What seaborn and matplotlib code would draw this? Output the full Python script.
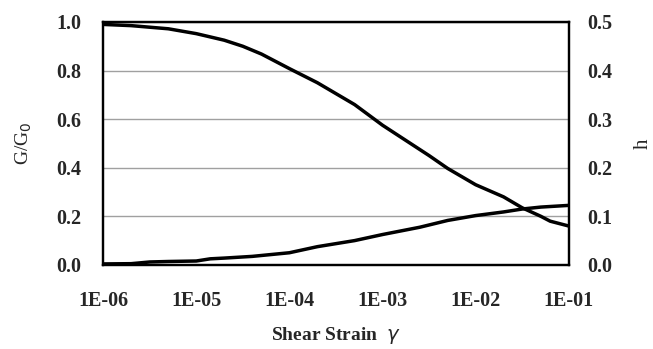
import numpy as np
import pandas as pd
import matplotlib
matplotlib.use("Agg")
import matplotlib.pyplot as plt
import seaborn as sns

# Data
strain_exp = [-6.0, -5.7, -5.3, -5.0, -4.7, -4.5, -4.3, -4.0, -3.7, -3.5, -3.3,
              -3.0, -2.7, -2.5, -2.3, -2.0, -1.7, -1.5, -1.3, -1.2, -1.0]
g_ratio = [0.99, 0.985, 0.972, 0.952, 0.925, 0.90, 0.868, 0.808, 0.75, 0.705, 0.66,
           0.575, 0.50, 0.45, 0.397, 0.33, 0.28, 0.235, 0.20, 0.18, 0.16]

h_exp = [-6.0, -5.7, -5.5, -5.3, -5.0, -4.85, -4.7, -4.4, -4.0, -3.7, -3.3,
         -3.0, -2.6, -2.3, -2.0, -1.7, -1.5, -1.3, -1.0]
h_vals = [0.002, 0.0025, 0.006, 0.007, 0.008, 0.0125, 0.014, 0.0175, 0.025, 0.0375, 0.05,
          0.0625, 0.0775, 0.0915, 0.1015, 0.109, 0.115, 0.119, 0.1225]

xtick_labels = ["1E-06", "1E-05", "1E-04", "1E-03", "1E-02", "1E-01"]
left_ticks = [0.0, 0.2, 0.4, 0.6, 0.8, 1.0]
right_ticks = [0.0, 0.1, 0.2, 0.3, 0.4, 0.5]

df_g = pd.DataFrame({"strain": [10.0 ** e for e in strain_exp], "G": g_ratio})
df_h = pd.DataFrame({"strain": [10.0 ** e for e in h_exp], "h": h_vals})

sns.set_style("white")
plt.rcParams["font.family"] = ["Liberation Serif", "DejaVu Serif"]

fig = plt.figure(figsize=(6.53, 3.49), dpi=100)
ax = fig.add_axes([0.158, 0.241, 0.713, 0.696])
ax2 = ax.twinx()

sns.lineplot(data=df_g, x="strain", y="G", ax=ax, color="black", linewidth=2.5)
sns.lineplot(data=df_h, x="strain", y="h", ax=ax2, color="black", linewidth=2.5)

ax.set_xscale("log")
ax.set_xlim(1e-6, 1e-1)
ax.set_ylim(0, 1.0)
ax2.set_ylim(0, 0.5)

ax.set_xticks([10.0 ** k for k in range(-6, 0)])
ax.set_xticklabels(xtick_labels)
ax.minorticks_off()
ax.set_yticks(left_ticks)
ax.set_yticklabels([f"{v:.1f}" for v in left_ticks])
ax2.set_yticks(right_ticks)
ax2.set_yticklabels([f"{v:.1f}" for v in right_ticks])

for a in (ax, ax2):
    for lab in a.get_xticklabels() + a.get_yticklabels():
        lab.set_fontweight("bold")
        lab.set_fontsize(14.5)

ax.tick_params(axis="x", direction="in", length=4, width=1, pad=19)
ax.tick_params(axis="y", length=0, pad=16)
ax2.tick_params(axis="y", length=0, pad=13)

ax.yaxis.grid(True, color="#a0a0a0", linewidth=1)
ax.xaxis.grid(False)
ax2.grid(False)

for a in (ax, ax2):
    for s in a.spines.values():
        s.set_color("black")
        s.set_linewidth(1.6)

ax.set_xlabel("Shear Strain  $\\gamma$", fontsize=14, fontweight="bold", labelpad=10)
ax.set_ylabel("G/G$_0$", fontsize=14, labelpad=16)
ax2.set_ylabel("h", fontsize=15, labelpad=16)

fig.savefig("out.png", dpi=100)
